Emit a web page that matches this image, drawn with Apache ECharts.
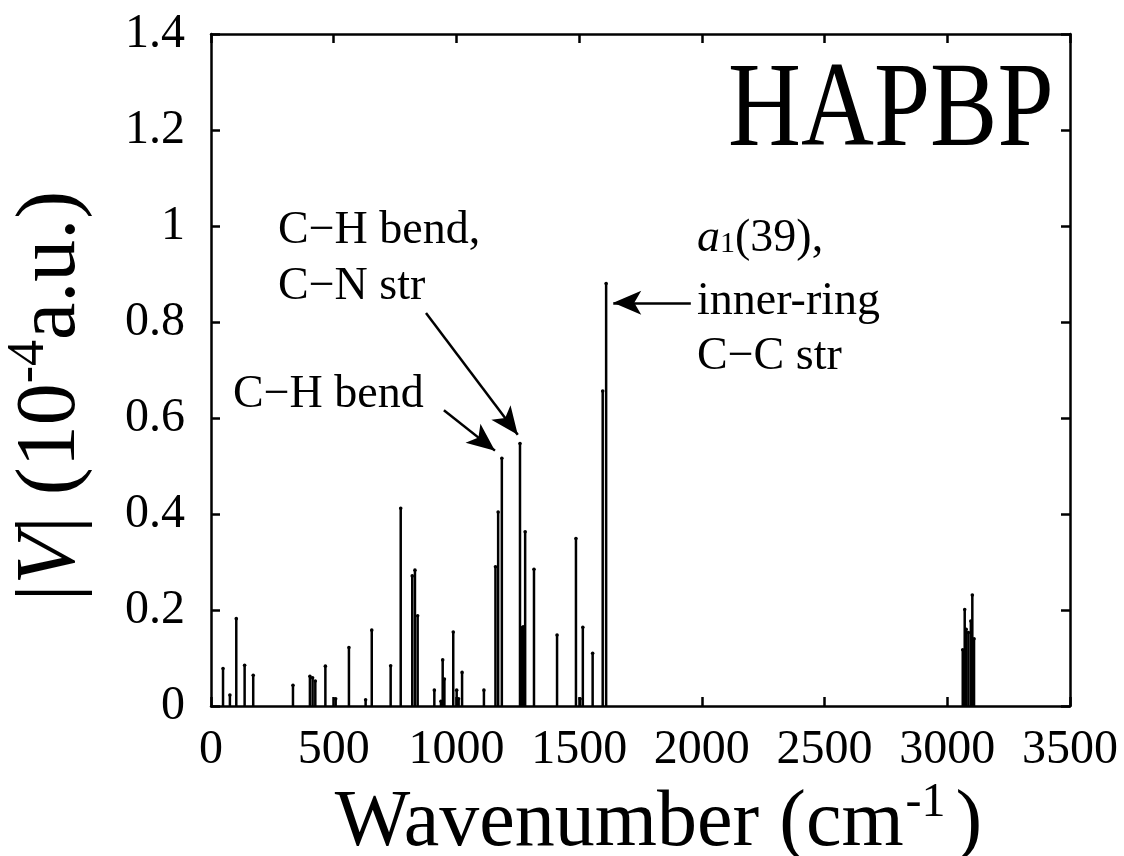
<!DOCTYPE html>
<html>
<head>
<meta charset="utf-8">
<script src="https://cdn.jsdelivr.net/npm/echarts@6/dist/echarts.min.js"></script>
<style>
  html, body { margin: 0; padding: 0; background: #fff; }
  #main { width: 1124px; height: 856px; }
</style>
</head>
<body>
<div id="main"></div>
<script>
// stick spectrum
var wavenumbers = [49, 77, 103, 137, 172, 334, 403, 414, 425, 466, 508, 562, 630, 655, 732, 773,
    820, 831, 842, 910, 937, 944, 951, 987, 1001, 1009, 1023, 1112, 1159, 1170, 1185,
    1259, 1266, 1272, 1280, 1316, 1410, 1487, 1504, 1515, 1555, 1596, 1610,
    3063, 3071, 3077, 3086, 3096, 3102, 3109];
var intensities = [0.078, 0.023, 0.182, 0.085, 0.064, 0.043, 0.062, 0.059, 0.052, 0.083, 0.015, 0.122, 0.013, 0.158, 0.084, 0.412,
    0.271, 0.283, 0.188, 0.033, 0.010, 0.096, 0.056, 0.154, 0.033, 0.015, 0.070, 0.033, 0.290, 0.404, 0.516,
    0.547, 0.163, 0.165, 0.363, 0.285, 0.148, 0.349, 0.015, 0.164, 0.110, 0.656, 0.880,
    0.117, 0.201, 0.160, 0.153, 0.177, 0.231, 0.140];
var xTicks = [0, 500, 1000, 1500, 2000, 2500, 3000, 3500];
var yTicks = [0, 0.2, 0.4, 0.6, 0.8, 1, 1.2, 1.4];

// arrows: [from, to] in data coordinates
var arrows = [
    [[949, 0.616], [1157, 0.532]],
    [[876, 0.819], [1250, 0.565]],
    [[1955, 0.840], [1639, 0.840]]
];

var FONT = '"Liberation Serif", "Times New Roman", serif';

var sticks = wavenumbers.map(function (w, i) { return [w, intensities[i]]; });

var chart = echarts.init(document.getElementById('main'));

function axisBase() {
    return {
        type: 'value',
        min: 0,
        splitLine: { show: false },
        axisLine: { show: true, onZero: false, lineStyle: { color: '#000', width: 2.5 } },
        axisTick: { show: true, inside: true, length: 9, lineStyle: { color: '#000', width: 2.5 } }
    };
}

var xBottom = axisBase();
xBottom.max = xTicks[xTicks.length - 1];
xBottom.interval = 500;
xBottom.position = 'bottom';
xBottom.axisLabel = {
    color: '#000', fontFamily: FONT, fontSize: 48, margin: 20,
    formatter: function (v) { return String(v); }
};
xBottom.name = 'Wavenumber (cm{sup|-1})';
xBottom.nameLocation = 'middle';
xBottom.nameGap = 48;
xBottom.nameTextStyle = {
    color: '#000', fontFamily: FONT, fontSize: 80,
    padding: [0, 0, 0, 36],
    rich: { sup: { fontFamily: FONT, fontSize: 48, color: '#000', padding: [0, 10, 42, 2] } }
};

var xTop = axisBase();
xTop.max = xTicks[xTicks.length - 1];
xTop.interval = 500;
xTop.position = 'top';
xTop.axisLabel = { show: false };

var yLeft = axisBase();
yLeft.max = yTicks[yTicks.length - 1];
yLeft.interval = 0.2;
yLeft.position = 'left';
yLeft.axisLabel = { color: '#000', fontFamily: FONT, fontSize: 48, margin: 26 };
yLeft.name = '|{i|V}| (10{sup|-4}a.u.)';
yLeft.nameLocation = 'middle';
yLeft.nameGap = 110;
yLeft.nameRotate = 90;
yLeft.nameTextStyle = {
    color: '#000', fontFamily: FONT, fontSize: 84,
    padding: [0, 52, 0, 0],
    rich: {
        i: { fontFamily: FONT, fontSize: 84, fontStyle: 'italic', color: '#000' },
        sup: { fontFamily: FONT, fontSize: 52, color: '#000', padding: [0, 0, 46, 0] }
    }
};

var yRight = axisBase();
yRight.max = yTicks[yTicks.length - 1];
yRight.interval = 0.2;
yRight.position = 'right';
yRight.axisLabel = { show: false };

chart.setOption({
    animation: false,
    backgroundColor: '#fff',
    grid: { left: 211, right: 54, top: 34, bottom: 150, outerBoundsMode: 'none' },
    xAxis: [xBottom, xTop],
    yAxis: [yLeft, yRight],
    series: [{
        type: 'custom',
        xAxisIndex: 0,
        yAxisIndex: 0,
        data: sticks,
        renderItem: function (params, api) {
            var base = api.coord([api.value(0), 0]);
            var top = api.coord([api.value(0), api.value(1)]);
            return {
                type: 'group',
                children: [{
                    type: 'line',
                    shape: { x1: base[0], y1: base[1], x2: top[0], y2: top[1] },
                    style: { stroke: '#000', lineWidth: 2.5 }
                }, {
                    type: 'circle',
                    shape: { cx: top[0], cy: top[1], r: 1.8 },
                    style: { fill: '#000' }
                }]
            };
        }
    }, {
        type: 'scatter',
        xAxisIndex: 0,
        yAxisIndex: 0,
        data: [],
        markLine: {
            silent: true,
            animation: false,
            symbol: ['none', 'arrow'],
            symbolSize: [18, 28],
            label: { show: false },
            lineStyle: { color: '#000', width: 2.5, type: 'solid' },
            data: arrows.map(function (a) {
                return [{ coord: a[0] }, { coord: a[1] }];
            })
        }
    }],
    graphic: [
        {
            type: 'text', x: 728, y: 53, scaleY: 1.2,
            style: { text: 'HAPBP', fill: '#000', font: '101px ' + FONT }
        },
        { type: 'text', x: 278, y: 208, style: { text: 'C\u2212H bend,', fill: '#000', font: '46px ' + FONT } },
        { type: 'text', x: 278, y: 264, style: { text: 'C\u2212N str', fill: '#000', font: '46px ' + FONT } },
        { type: 'text', x: 233, y: 372, style: { text: 'C\u2212H bend', fill: '#000', font: '46px ' + FONT } },
        {
            type: 'text', x: 697, y: 216,
            style: {
                text: '{i|a}{sub|1}{n|(39),}', fill: '#000', font: '46px ' + FONT,
                rich: {
                    i: { fontFamily: FONT, fontSize: 46, fontStyle: 'italic', fill: '#000', padding: [0, 0, 10, 0] },
                    sub: { fontFamily: FONT, fontSize: 30, fill: '#000' },
                    n: { fontFamily: FONT, fontSize: 46, fill: '#000', padding: [0, 0, 10, 0] }
                }
            }
        },
        { type: 'text', x: 697, y: 279, style: { text: 'inner-ring', fill: '#000', font: '46px ' + FONT } },
        { type: 'text', x: 697, y: 334, style: { text: 'C\u2212C str', fill: '#000', font: '46px ' + FONT } }
    ]
});
</script>
</body>
</html>
